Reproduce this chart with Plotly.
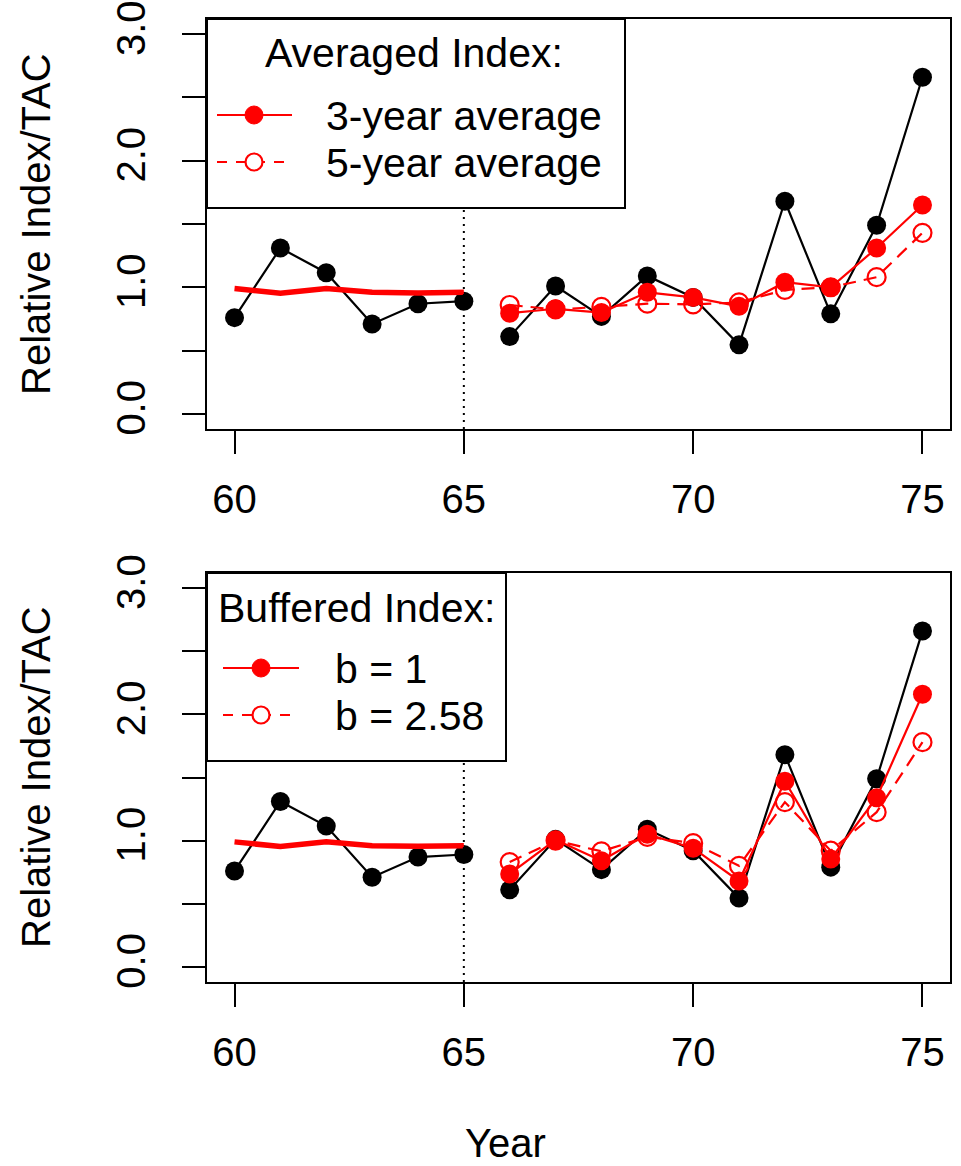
import plotly.graph_objects as go

# ---------------- data ----------------
years_hist = [60, 61, 62, 63, 64, 65]
years_proj = [66, 67, 68, 69, 70, 71, 72, 73, 74, 75]
break_year = 65

index_hist = [0.76, 1.31, 1.115, 0.71, 0.87, 0.89]
index_proj = [0.61, 1.01, 0.77, 1.09, 0.92, 0.545, 1.68, 0.79, 1.49, 2.66]
tac_hist = [0.99, 0.953, 0.99, 0.96, 0.955, 0.96]

avg3 = [0.795, 0.83, 0.80, 0.96, 0.92, 0.85, 1.04, 1.00, 1.31, 1.65]
avg5 = [0.86, 0.825, 0.845, 0.87, 0.865, 0.88, 0.98, 1.00, 1.08, 1.43]

buf_b1 = [0.736, 1.006, 0.84, 1.05, 0.94, 0.68, 1.47, 0.855, 1.34, 2.16]
buf_b258 = [0.83, 1.0, 0.915, 1.03, 0.98, 0.80, 1.305, 0.92, 1.225, 1.78]

x_ticks = [60, 65, 70, 75]
x_ticklabels = ["60", "65", "70", "75"]
y_ticks = [0.0, 0.5, 1.0, 1.5, 2.0, 2.5, 3.0]
y_ticklabels = ["0.0", "", "1.0", "", "2.0", "", "3.0"]

legend1_title = "Averaged Index:"
legend1_labels = ["3-year average", "5-year average"]
legend2_title = "Buffered Index:"
legend2_labels = ["b = 1", "b = 2.58"]

# ---------------- layout geometry ----------------
W, H = 961, 1166
L, R, T, B = 207, 11, 19, 184
PW = W - L - R
PH = H - T - B
FONT = "Arial, Liberation Sans, sans-serif"
FS = 40
RED = "#FF0000"
MS = 19


def px(x):
    return (x - L) / PW


def py(y):
    return (H - B - y) / PH


top_dom = [py(429), 1.0]
bot_dom = [0.0, py(573)]

fig = go.Figure()


def add_panel(xa, ya, open_vals, fill_vals):
    # observed index
    for xs, ys in [(years_hist, index_hist), (years_proj, index_proj)]:
        fig.add_trace(go.Scatter(x=xs, y=ys, mode="lines+markers",
                                 line=dict(color="black", width=2.2),
                                 marker=dict(color="black", size=MS),
                                 xaxis=xa, yaxis=ya, showlegend=False))
    # historical TAC
    fig.add_trace(go.Scatter(x=years_hist, y=tac_hist, mode="lines",
                             line=dict(color=RED, width=5.5),
                             xaxis=xa, yaxis=ya, showlegend=False))
    # open circles dashed
    fig.add_trace(go.Scatter(x=years_proj, y=open_vals, mode="lines+markers",
                             line=dict(color=RED, width=2.2, dash="13px,8px"),
                             marker=dict(color=RED, size=MS - 1, symbol="circle-open",
                                         line=dict(color=RED, width=2.2)),
                             xaxis=xa, yaxis=ya, showlegend=False))
    # filled circles solid
    fig.add_trace(go.Scatter(x=years_proj, y=fill_vals, mode="lines+markers",
                             line=dict(color=RED, width=2.2),
                             marker=dict(color=RED, size=MS),
                             xaxis=xa, yaxis=ya, showlegend=False))


add_panel("x", "y", avg5, avg3)
add_panel("x2", "y2", buf_b258, buf_b1)

axis_common = dict(showgrid=False, zeroline=False, showline=True, mirror=True,
                   linecolor="black", linewidth=2, ticks="outside", ticklen=23,
                   tickwidth=2, tickcolor="black", automargin=False,
                   tickfont=dict(family=FONT, size=FS, color="black"))

fig.update_layout(
    width=W, height=H,
    margin=dict(l=L, r=R, t=T, b=B, autoexpand=False),
    paper_bgcolor="white", plot_bgcolor="white",
    showlegend=False,
    xaxis=dict(domain=[0, 1], anchor="y", range=[59.4, 75.6],
               tickvals=x_ticks, ticktext=x_ticklabels, ticklabelstandoff=11,
               **axis_common),
    yaxis=dict(domain=top_dom, anchor="x", range=[-0.12, 3.12],
               tickvals=y_ticks, ticktext=y_ticklabels, tickangle=-90,
               ticklabelstandoff=21, **axis_common),
    xaxis2=dict(domain=[0, 1], anchor="y2", range=[59.4, 75.6],
                tickvals=x_ticks, ticktext=x_ticklabels, ticklabelstandoff=11,
                **axis_common),
    yaxis2=dict(domain=bot_dom, anchor="x2", range=[-0.12, 3.12],
                tickvals=y_ticks, ticktext=y_ticklabels, tickangle=-90,
                ticklabelstandoff=21, **axis_common),
)

shapes = []
annotations = []

# dotted vertical lines at break year
for xr, yr in [("x", "y domain"), ("x2", "y2 domain")]:
    shapes.append(dict(type="line", xref=xr, yref=yr, x0=break_year, x1=break_year,
                       y0=0, y1=1, line=dict(color="black", width=2, dash="2px,5px"),
                       layer="above"))


def add_legend(box, title, title_cx, title_cy, labels, line_x0, line_x1, mark_x,
               rows_y, text_x):
    bx0, by0, bx1, by1 = box
    shapes.append(dict(type="rect", xref="paper", yref="paper",
                       x0=px(bx0), x1=px(bx1), y0=py(by1), y1=py(by0),
                       fillcolor="white", line=dict(color="black", width=2),
                       layer="above"))
    annotations.append(dict(text=title, xref="paper", yref="paper", x=px(title_cx),
                            y=py(title_cy), xanchor="center", yanchor="middle",
                            showarrow=False, font=dict(family=FONT, size=FS + 1, color="black")))
    for i, (lab, ry) in enumerate(zip(labels, rows_y)):
        dash = "solid" if i == 0 else "10px,9px"
        shapes.append(dict(type="line", xref="paper", yref="paper",
                           x0=px(line_x0), x1=px(line_x1), y0=py(ry), y1=py(ry),
                           line=dict(color=RED, width=2.2, dash=dash), layer="above"))
        if i == 0:
            shapes.append(dict(type="circle", xref="paper", yref="paper",
                               xsizemode="pixel", ysizemode="pixel",
                               xanchor=px(mark_x), yanchor=py(ry),
                               x0=-9, x1=9, y0=-9, y1=9,
                               fillcolor=RED, line=dict(color=RED, width=1),
                               layer="above"))
        else:
            shapes.append(dict(type="circle", xref="paper", yref="paper",
                               xsizemode="pixel", ysizemode="pixel",
                               xanchor=px(mark_x), yanchor=py(ry),
                               x0=-8.5, x1=8.5, y0=-8.5, y1=8.5,
                               fillcolor="white", line=dict(color=RED, width=2.2),
                               layer="above"))
        annotations.append(dict(text=lab, xref="paper", yref="paper", x=px(text_x),
                                y=py(ry + 1), xanchor="left", yanchor="middle",
                                showarrow=False,
                                font=dict(family=FONT, size=FS + 1, color="black")))


add_legend((207, 19, 625, 208), legend1_title, 414, 53, legend1_labels,
           217, 292, 254, [115, 162], 324)
add_legend((207, 573, 506, 761), legend2_title, 356, 608, legend2_labels,
           223, 299, 261, [668, 715], 333)

# axis titles
for yc in [224, 777]:
    annotations.append(dict(text="Relative Index/TAC", xref="paper", yref="paper",
                            x=px(36), y=py(yc), xanchor="center", yanchor="middle",
                            textangle=-90, showarrow=False,
                            font=dict(family=FONT, size=FS, color="black")))
annotations.append(dict(text="Year", xref="paper", yref="paper", x=px(505), y=py(1143),
                        xanchor="center", yanchor="middle", showarrow=False,
                        font=dict(family=FONT, size=FS, color="black")))

fig.update_layout(shapes=shapes, annotations=annotations)
fig.write_html("out.html",
               config={"displayModeBar": False},
               post_script="document.body.style.margin='0px';"
                           "document.body.style.overflow='hidden';")
